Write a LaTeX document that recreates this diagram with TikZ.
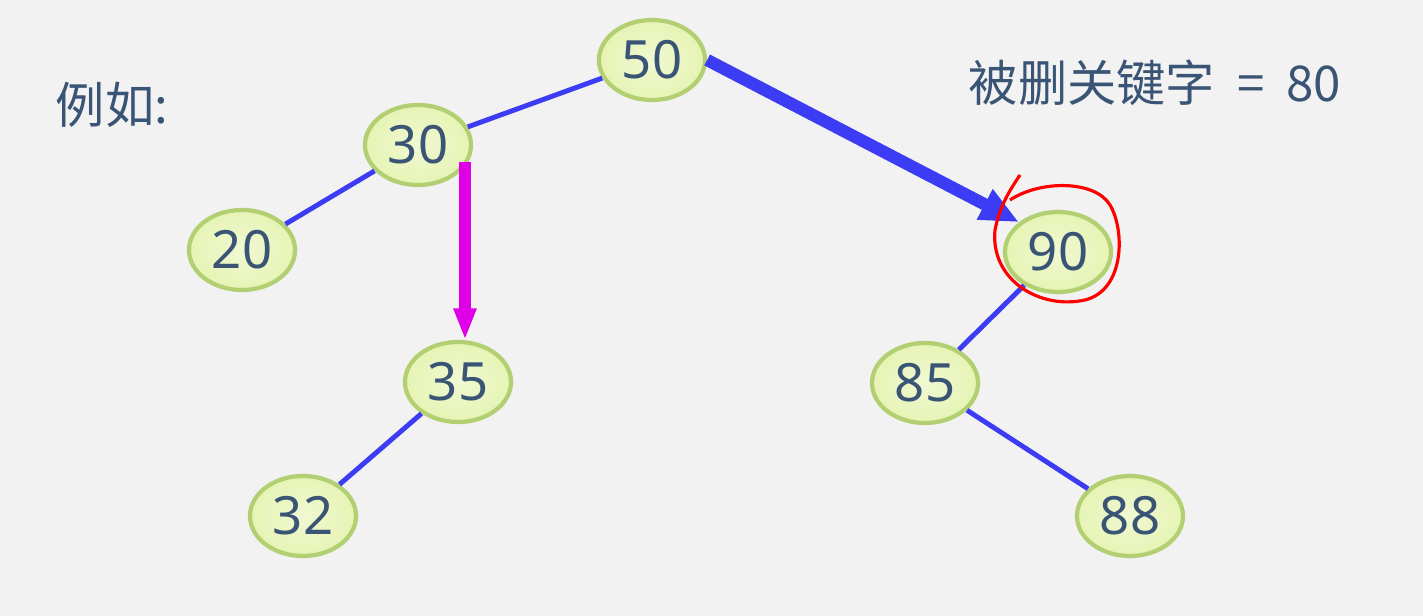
\documentclass[tikz,border=0pt]{standalone}
\usepackage{fontspec}
\setmainfont{Noto Sans}
\newfontfamily\cjk{Noto Sans CJK SC}
\usetikzlibrary{shapes.geometric,arrows.meta}
\definecolor{txt}{HTML}{3A5475}
\definecolor{nfill}{HTML}{E6F4B4}
\definecolor{nborder}{HTML}{B2CF72}
\definecolor{ln}{HTML}{3C3CF5}
\definecolor{mag}{HTML}{E000E8}
\tikzset{
 bnode/.style={ellipse,draw=nborder,line width=1.2pt,inner color=nfill!60!white,outer color=nfill,inner sep=0pt,minimum width=1.06cm,minimum height=0.8cm,text=txt,font=\fontsize{15}{15}\selectfont},
 edge/.style={draw=ln,line width=1.4pt},
}
\begin{document}
\begin{tikzpicture}[x=0.01cm,y=-0.01cm]
\useasboundingbox[fill=black!5] (0,0) rectangle (1423,616);
\node[text=txt,font=\cjk\fontsize{14}{14}\selectfont] (eg) at (112,105) {例如:};
\node[text=txt,font=\cjk\fontsize{14}{14}\selectfont] (title) at (1155,83) {被删关键字\ \ =\ \ 80};
\node[bnode] (n50) at (652,60) {50};
\node[bnode] (n30) at (418,145) {30};
\node[bnode] (n20) at (242,250) {20};
\node[bnode] (n35) at (458,382) {35};
\node[bnode] (n32) at (303,516) {32};
\node[bnode] (n90) at (1058,252) {90};
\node[bnode] (n85) at (925,383) {85};
\node[bnode] (n88) at (1130,516) {88};
\draw[edge] (n50) -- (n30);
\draw[edge] (n30) -- (n20);
\draw[edge] (n35) -- (n32);
\draw[edge] (n90) -- (n85);
\draw[edge] (n85) -- (n88);
\draw[draw=ln,line width=3.5pt,-{Triangle[length=11pt,width=9pt]}] (n50.east) -- (n90.north west);
\coordinate (ma) at (465,162);
\coordinate (mb) at (465,340);
\draw[draw=mag,line width=3.5pt,-{Triangle[length=9pt,width=6pt]}] (ma) -- (mb);
\draw[red,line width=0.9pt] (1020,175) .. controls (1010,190) and (1000,205) .. (995,230)
  .. controls (990,280) and (1040,310) .. (1085,300)
  .. controls (1125,290) and (1125,230) .. (1110,205)
  .. controls (1095,180) and (1040,180) .. (1010,200);
\end{tikzpicture}
\end{document}
